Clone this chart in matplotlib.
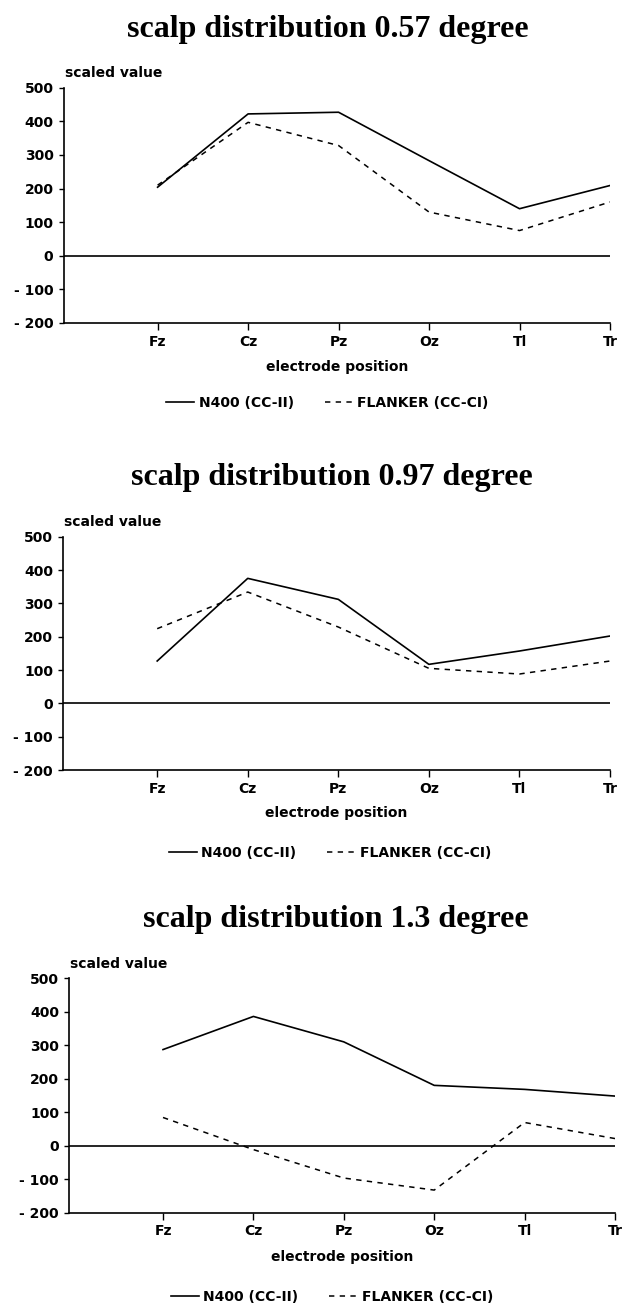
import matplotlib.pyplot as plt

# electrode positions along the x axis
electrodes = ['Fz', 'Cz', 'Pz', 'Oz', 'Tl', 'Tr']
y_ticks = [500, 400, 300, 200, 100, 0, -100, -200]
y_tick_labels = ['500', '400', '300', '200', '100', '0', '- 100', '- 200']

titles = ['scalp distribution 0.57 degree',
          'scalp distribution 0.97 degree',
          'scalp distribution 1.3 degree']

# scaled values
n400_057 = [204, 422, 427, 283, 140, 209]
flanker_057 = [210, 397, 328, 130, 75, 160]
n400_097 = [127, 375, 312, 117, 157, 202]
flanker_097 = [224, 334, 229, 105, 88, 127]
n400_13 = [287, 386, 310, 180, 168, 148]
flanker_13 = [84, -12, -97, -133, 69, 21]

n400_series = [n400_057, n400_097, n400_13]
flanker_series = [flanker_057, flanker_097, flanker_13]

W, H = 623, 1307
fig = plt.figure(figsize=(W / 100, H / 100), dpi=100)

# layout in pixels (left, right, top, bottom of each plot box)
boxes = [(63.5, 610, 87.7, 323), (63, 610, 536.7, 770), (69, 615, 978.3, 1212.5)]
title_pos = [(328, 29), (332, 478), (336, 919.5)]
legend_pos = [(327.5, 403), (330, 853), (332, 1297)]
xlabel_y = [367, 813, 1257]

small = dict(family='DejaVu Sans', weight='bold', size=10)
x = list(range(1, len(electrodes) + 1))

for i in range(3):
    l, r, t, b = boxes[i]
    ax = fig.add_axes([l / W, 1 - b / H, (r - l) / W, (b - t) / H])
    ax.plot(x, n400_series[i], color='black', lw=1.2, label='N400 (CC-II)')
    ax.plot(x, flanker_series[i], color='black', lw=1.1, linestyle=(0, (3.5, 3.5)),
            label='FLANKER (CC-CI)')
    ax.axhline(0, color='black', lw=1.2)

    ax.set_xlim(-0.04, 6)
    ax.set_ylim(-200, 500)
    ax.set_xticks(x)
    ax.set_xticklabels(electrodes, fontdict=small)
    ax.set_yticks(y_ticks)
    ax.set_yticklabels(y_tick_labels, fontdict=small)
    ax.tick_params(axis='x', direction='out', length=5, width=1, pad=3.6)
    ax.tick_params(axis='y', direction='out', length=3.6, width=1, pad=3.6)
    for s in ['top', 'right']:
        ax.spines[s].set_visible(False)
    for s in ['left', 'bottom']:
        ax.spines[s].set_linewidth(1.2)

    ax.set_xlabel('electrode position', fontdict=small)
    ax.xaxis.label.set_va('center')
    ax.xaxis.set_label_coords(0.5, -(xlabel_y[i] - b) / (b - t))

    ax.text(1.5 / (r - l), 1 + 14.8 / (b - t), 'scaled value', transform=ax.transAxes,
            ha='left', va='center', **small)

    lx, ly = legend_pos[i]
    ax.legend(loc='center', bbox_to_anchor=((lx - l) / (r - l), -(ly - b) / (b - t)),
              ncol=2, frameon=False, prop=dict(family='DejaVu Sans', weight='bold', size=10),
              handlelength=2.0, handletextpad=0.35, columnspacing=2.2)

    tx, ty = title_pos[i]
    fig.text(tx / W, 1 - ty / H, titles[i], ha='center', va='center',
             family='Liberation Serif', weight='bold', fontsize=23)

fig.savefig('out.png', dpi=100)
